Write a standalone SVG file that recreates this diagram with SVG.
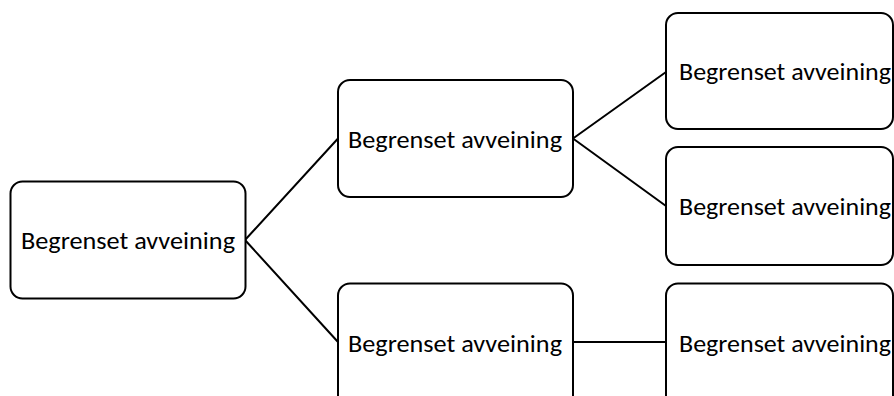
<svg xmlns="http://www.w3.org/2000/svg" width="894" height="396" viewBox="0 0 894 396">
  <style>
    .box { fill: #ffffff; stroke: #000000; stroke-width: 2; }
    .lbl { font-family: Carlito, Lato, "Liberation Sans", sans-serif; font-size: 24px; fill: #000000; }
    .link { stroke: #000000; stroke-width: 2; fill: none; }
  </style>
  <rect width="894" height="396" fill="#ffffff"/>

  <g id="connectors">
    <path class="link" d="M245 240 L338 138.5 M245 240 L338 342"/>
    <path class="link" d="M573 138.5 L666 72 M573 138.5 L666 206"/>
    <path class="link" d="M573 342 L666 342"/>
  </g>

  <g id="root">
    <rect class="box" x="10.5" y="181.5" width="235" height="117" rx="12"/>
    <text class="lbl" x="21" y="249" textLength="214" lengthAdjust="spacingAndGlyphs">Begrenset avveining</text>
  </g>

  <g id="mid-top">
    <rect class="box" x="338" y="80" width="235" height="117" rx="12"/>
    <text class="lbl" x="348" y="147.5" textLength="214" lengthAdjust="spacingAndGlyphs">Begrenset avveining</text>
  </g>

  <g id="mid-bottom">
    <rect class="box" x="338" y="283.5" width="235" height="130" rx="12"/>
    <text class="lbl" x="348" y="351.5" textLength="214" lengthAdjust="spacingAndGlyphs">Begrenset avveining</text>
  </g>

  <g id="leaf-1">
    <rect class="box" x="666" y="13" width="227" height="116" rx="12"/>
    <text class="lbl" x="679" y="80" textLength="212" lengthAdjust="spacingAndGlyphs">Begrenset avveining</text>
  </g>

  <g id="leaf-2">
    <rect class="box" x="666" y="147" width="227" height="118" rx="12"/>
    <text class="lbl" x="679" y="214.5" textLength="212" lengthAdjust="spacingAndGlyphs">Begrenset avveining</text>
  </g>

  <g id="leaf-3">
    <rect class="box" x="666" y="283.5" width="227" height="130" rx="12"/>
    <text class="lbl" x="679" y="351.5" textLength="212" lengthAdjust="spacingAndGlyphs">Begrenset avveining</text>
  </g>
</svg>
